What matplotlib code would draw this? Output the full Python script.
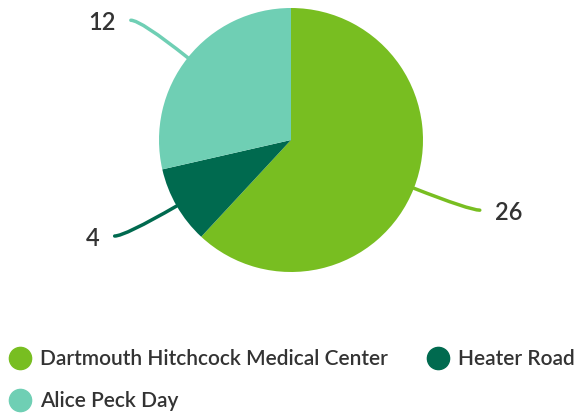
import numpy as np
import matplotlib
matplotlib.use("Agg")
import matplotlib.pyplot as plt
from matplotlib.path import Path
from matplotlib.patches import PathPatch
from matplotlib.lines import Line2D

categories = ["Dartmouth Hitchcock Medical Center", "Heater Road", "Alice Peck Day"]
values = [26, 4, 12]
colors = ["#78be21", "#006a4f", "#6fcfb4"]

plt.rcParams['font.family'] = ['Lato', 'DejaVu Sans']
TXT = "#333333"

W, H = 577, 415
fig = plt.figure(figsize=(W / 100, H / 100), dpi=100)
ax = fig.add_axes([0, 0, 1, 1])

cx, cy, R = 291, H - 140, 132
wedges, _ = ax.pie(values, colors=colors, startangle=90, counterclock=False,
                   center=(cx, cy), radius=R, wedgeprops=dict(linewidth=0))
ax.set_xlim(0, W)
ax.set_ylim(0, H)
ax.set_aspect('equal')
ax.axis('off')

for w, v in zip(wedges, values):
    ang = np.deg2rad((w.theta1 + w.theta2) / 2)
    c, s = np.cos(ang), np.sin(ang)
    p0 = (cx + R * c, cy + R * s)
    p1 = (cx + 1.455 * R * c, cy + 1.455 * R * s)
    sign = 1 if c >= 0 else -1
    p2 = (p1[0] + sign * 10, p1[1])
    path = Path([p0, p1, p2], [Path.MOVETO, Path.CURVE3, Path.CURVE3])
    ax.add_patch(PathPatch(path, fill=False, edgecolor=w.get_facecolor(), lw=2.5,
                           capstyle='round'))
    ax.text(p2[0] + sign * 15, p2[1], str(v), ha='left' if sign > 0 else 'right',
            va='center_baseline', fontsize=17, color=TXT, fontweight='semibold')

# legend (row 1: Dartmouth, Heater Road; row 2: Alice Peck Day)
order = [0, 2, 1]
handles = [Line2D([], [], marker='o', linestyle='none', markersize=16,
                  markerfacecolor=colors[i], markeredgecolor=colors[i]) for i in order]
labels = [categories[i] for i in order]
leg = ax.legend(handles, labels, ncol=2, loc='upper left', bbox_to_anchor=(8 / W, 66 / H),
                frameon=False, prop=dict(size=15, weight='semibold'),
                handletextpad=0.4, columnspacing=1.8,
                labelspacing=1.06, handlelength=1.15, borderaxespad=0, borderpad=0,
                labelcolor=TXT)

fig.savefig("out.png", dpi=100)
